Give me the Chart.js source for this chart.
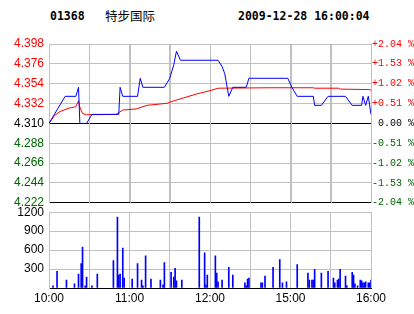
<!DOCTYPE html>
<html><head><meta charset="utf-8">
<script src="https://cdn.jsdelivr.net/npm/chart.js@4/dist/chart.umd.min.js"></script>
<style>
html,body{margin:0;padding:0;background:#fff;}
#wrap{position:relative;width:414px;height:314px;overflow:hidden;background:#fff;}
.t{position:absolute;top:9px;font:bold 11.5px "DejaVu Sans Mono",monospace;color:#000;white-space:pre;line-height:15px;}
.n{position:absolute;top:8px;font:12.5px "Noto Sans CJK SC",sans-serif;color:#000;white-space:pre;line-height:16px;}
canvas{position:absolute;left:0;}
</style></head><body>
<div id="wrap">
<div class="t" id="code" style="left:50px"></div>
<div class="n" id="name" style="left:105px"></div>
<div class="t" id="stamp" style="left:238px"></div>
<canvas id="c1" width="414" height="215" style="top:0;width:414px;height:215px"></canvas>
<canvas id="c2" width="414" height="114" style="top:200px;width:414px;height:114px"></canvas>
</div>
<script>
const stockCode = '01368';
const stockName = '特步国际';
const stampText = '2009-12-28 16:00:04';
const prevClose = 4.31;

// trading minute index (0 = 10:00, 150 = 12:30/14:30, 240 = 16:00)
const priceMin = [0,12,20,22,23,28,32,52,53,55,66,68,70,86,90,93,95,98,126,129,131,134,137,147,149,178,181,185,197,198,203,208,221,226,233,234,236,238,240];
const priceVal = [4.31,4.34,4.34,4.35,4.31,4.31,4.32,4.32,4.35,4.34,4.34,4.36,4.35,4.35,4.36,4.375,4.39,4.38,4.38,4.373,4.365,4.34,4.35,4.35,4.36,4.36,4.35,4.34,4.34,4.33,4.33,4.34,4.34,4.33,4.33,4.34,4.33,4.34,4.32];

const avgMin = [0,4,8,15,20,22,23,25,28,50,55,65,73,88,93,110,120,126,164,197,198,216,217,238,240];
const avgVal = [4.31,4.3185,4.323,4.327,4.3285,4.335,4.328,4.321,4.3196,4.320,4.3248,4.326,4.330,4.3323,4.335,4.3426,4.3463,4.349,4.3495,4.3495,4.349,4.349,4.348,4.3475,4.347];

const volMin = [3,6,13,19,22,24,25,27,28,32,36,48,51,52,53,55,56,62,66,69,70,72,76,83,85,86,91,93,94,95,99,112,116,117,118,124,125,126,129,134,137,146,147,148,149,158,159,161,167,172,174,177,185,193,194,196,197,198,203,208,212,213,215,216,217,221,222,226,227,228,230,232,233,234,235,236,238,239,240];
const volVal = [35,265,127,66,219,387,647,35,173,35,219,433,1122,204,219,632,158,142,387,127,35,510,142,127,50,403,250,173,311,112,127,1122,555,50,204,510,235,97,127,326,204,81,35,142,158,81,81,189,326,449,81,97,372,235,127,127,127,296,235,265,158,81,127,142,296,189,35,250,204,66,35,127,112,81,81,97,81,81,127];

const priceTicks = [4.222,4.244,4.266,4.288,4.310,4.332,4.354,4.376,4.398];
const priceTickLabels = ['4.222','4.244','4.266','4.288','4.310','4.332','4.354','4.376','4.398'];
const pctTickLabels = ['-2.04 %','-1.53 %','-1.02 %','-0.51 %',' 0.00 %','+0.51 %','+1.02 %','+1.53 %','+2.04 %'];
const volTicks = [0,300,600,900,1200];
const volTickLabels = ['','300','600','900','1200'];
const timeGridMin = [0,30,60,90,120,150,180,210,240];
const timeLabelMin = [0,60,120,180,240];
const timeLabelText = ['10:00','11:00','12:00','15:00','16:00'];

document.getElementById('code').textContent = stockCode;
document.getElementById('name').textContent = stockName;
document.getElementById('stamp').textContent = stampText;

const GRID = '#c0c0c0';
const RED = '#ff0000';
const GREEN = '#006400';
const tickColor = v => Math.abs(v - prevClose) < 1e-6 ? '#000' : (v > prevClose ? RED : GREEN);

const xy = (xs, ys) => xs.map((x, i) => ({x: x, y: ys[i]}));

// re-strokes the x-axis grid lines (from the x scale's own ticks) beneath the datasets
const xGridPlugin = {
  id: 'xGridUnder',
  beforeDatasetsDraw(chart) {
    const sc = chart.scales.x, area = chart.chartArea, ctx = chart.ctx;
    ctx.save();
    ctx.strokeStyle = GRID;
    ctx.lineWidth = 1;
    ctx.beginPath();
    sc.ticks.forEach(t => {
      const px = Math.round(sc.getPixelForValue(t.value)) + 0.5;
      ctx.moveTo(px, area.top);
      ctx.lineTo(px, area.bottom);
    });
    ctx.stroke();
    ctx.restore();
  }
};

new Chart(document.getElementById('c1'), {
  type: 'line',
  plugins: [xGridPlugin],
  data: {
    datasets: [
      {data: xy(priceMin, priceVal), borderColor: '#0000ff', borderWidth: 1, pointRadius: 0, tension: 0, fill: false, yAxisID: 'y', order: 1},
      {data: xy(avgMin, avgVal), borderColor: RED, borderWidth: 1, pointRadius: 0, tension: 0, fill: false, yAxisID: 'y', order: 2}
    ]
  },
  options: {
    responsive: false, animation: false, devicePixelRatio: 1,
    layout: {padding: {top: 44, bottom: 0, left: 0, right: 0}},
    plugins: {legend: {display: false}, tooltip: {enabled: false}},
    scales: {
      x: {type: 'linear', min: 0, max: 240,
        afterBuildTicks: s => { s.ticks = timeGridMin.map(v => ({value: v})); },
        ticks: {display: false}, grid: {color: GRID, drawTicks: false}, border: {display: false}},
      y: {position: 'left', min: 4.222, max: 4.398,
        afterBuildTicks: s => { s.ticks = priceTicks.map(v => ({value: v})); },
        afterFit: s => { s.width = 49; },
        ticks: {callback: (v, i) => priceTickLabels[i], color: ctx => tickColor(ctx.tick.value),
          font: {family: '"Liberation Sans", Arial, sans-serif', size: 12}, padding: 5},
        grid: {color: ctx => (ctx.tick && (Math.abs(ctx.tick.value - prevClose) < 1e-6 || Math.abs(ctx.tick.value - 4.222) < 1e-6)) ? '#000' : GRID, drawTicks: false},
        border: {color: GRID}},
      y2: {position: 'right', min: 4.222, max: 4.398,
        afterBuildTicks: s => { s.ticks = priceTicks.map(v => ({value: v})); },
        afterFit: s => { s.width = 43; },
        ticks: {callback: (v, i) => pctTickLabels[i], color: ctx => tickColor(ctx.tick.value),
          font: {family: '"Liberation Mono", "Courier New", monospace', size: 10}, padding: 1},
        grid: {display: false, drawTicks: false},
        border: {color: GRID}}
    }
  }
});

new Chart(document.getElementById('c2'), {
  type: 'bar',
  data: {
    datasets: [
      {data: xy(volMin, volVal), backgroundColor: '#0000ff', borderWidth: 0, barThickness: 1}
    ]
  },
  options: {
    responsive: false, animation: false, devicePixelRatio: 1,
    layout: {padding: {top: 10, bottom: 0, left: 0, right: 43}},
    plugins: {legend: {display: false}, tooltip: {enabled: false}},
    scales: {
      x: {
        type: 'linear', min: 0, max: 240, offset: false,
        afterBuildTicks: s => { s.ticks = timeGridMin.map(v => ({value: v})); },
        afterFit: s => { s.height = 26; },
        ticks: {
          callback: v => { const k = timeLabelMin.indexOf(v); return k >= 0 ? timeLabelText[k] : ''; },
          color: '#000',
          font: {family: '"Liberation Sans", Arial, sans-serif', size: 12},
          padding: 3, maxRotation: 0, autoSkip: false
        },
        grid: {color: GRID, lineWidth: 1, drawTicks: false, offset: false},
        border: {color: '#000'}
      },
      y: {
        position: 'left', min: 0, max: 1200,
        afterBuildTicks: s => { s.ticks = volTicks.map(v => ({value: v})); },
        afterFit: s => { s.width = 49; },
        ticks: {
          callback: (v, i) => volTickLabels[i],
          color: '#000',
          font: {family: '"Liberation Sans", Arial, sans-serif', size: 12},
          padding: 5
        },
        grid: {color: ctx => (ctx.tick && ctx.tick.value === 0) ? '#000' : GRID, lineWidth: 1, drawTicks: false},
        border: {color: GRID}
      }
    }
  }
});
</script>
</body></html>
